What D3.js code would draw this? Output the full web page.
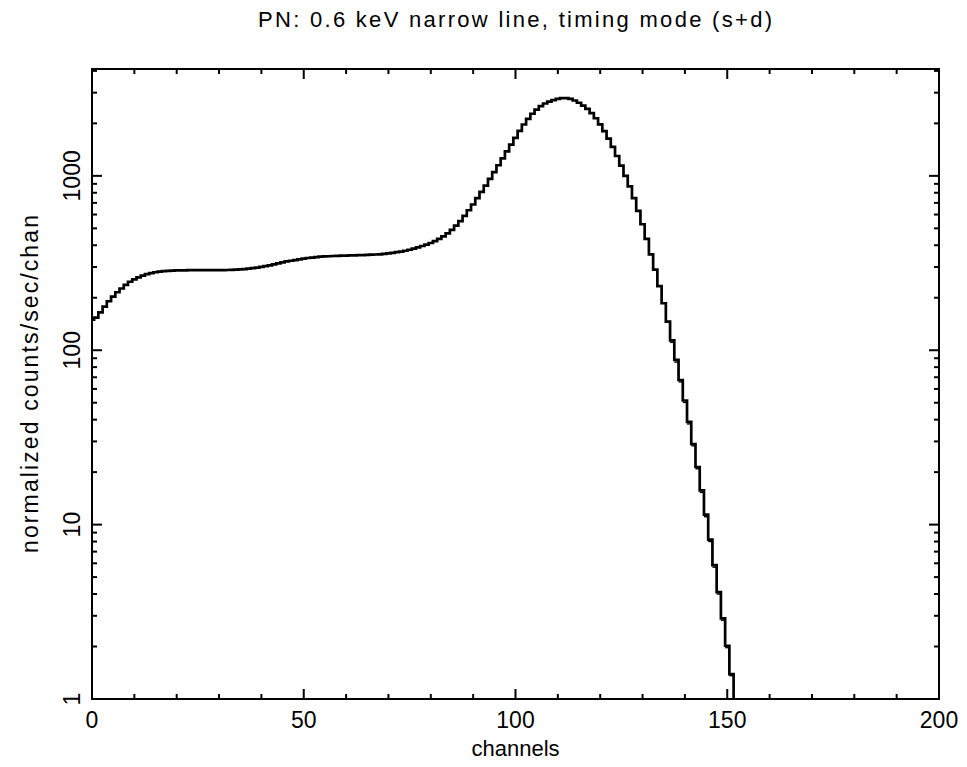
<!DOCTYPE html>
<html lang="en">
<head>
    <meta charset="UTF-8">
    <title>PN: 0.6 keV narrow line, timing mode (s+d)</title>
    <script src="https://cdnjs.cloudflare.com/ajax/libs/d3/7.8.5/d3.min.js"></script>
    <style>
        body {
            margin: 0;
            padding: 0;
            background-color: #fff;
        }
        svg text {
            font-family: "Liberation Sans", Arial, sans-serif;
            fill: #000;
        }
        .frame {
            fill: none;
            stroke: #000;
            stroke-width: 2px;
        }
        .tick-line {
            stroke: #000;
            stroke-width: 2px;
        }
        .model {
            fill: none;
            stroke: #000;
            stroke-width: 2.7px;
            stroke-linejoin: miter;
        }
        .data-bar {
            stroke: #000;
            stroke-width: 1.4px;
        }
    </style>
</head>
<body>
    <div id="chart"></div>

    <script>
        // model counts per channel, channels 0..152
        const modelValues = [
            150, 154, 165, 178, 191, 203, 215, 226, 237, 247,
            255, 262, 268, 273, 277, 280, 282, 284, 285, 286,
            287, 287, 287, 288, 288, 288, 288, 288, 288, 288,
            288, 288, 288.5, 289, 290, 291, 292, 294, 296, 298,
            301, 304, 307, 311, 315, 319, 323, 326, 329, 332,
            335, 338, 340, 342, 344, 345, 346, 347, 348, 349,
            349, 350, 350, 351, 351, 352, 353, 354, 355, 357,
            359, 362, 365, 368, 372, 377, 383, 389, 396, 403,
            412, 422, 435, 450, 468, 490, 518, 550, 590, 635,
            685, 745, 810, 880, 960, 1050, 1150, 1260, 1380, 1510,
            1650, 1810, 1970, 2120, 2270, 2400, 2510, 2600, 2665, 2720,
            2765, 2790, 2790, 2765, 2705, 2625, 2530, 2420, 2290, 2140,
            1975, 1805, 1635, 1465, 1300, 1145, 1000, 870, 745, 630,
            528, 435, 355, 290, 233, 186, 146, 114, 88, 67.5,
            51.5, 38.8, 29, 21.4, 15.7, 11.4, 8.2, 5.85, 4.1, 2.9,
            2.02, 1.39, 0.95
        ];
        const firstChannel = 0;

        // data points in the steep tail, where they sit a little off the model
        const tailChannels = [137, 138, 139, 140, 141, 142, 143, 144, 145, 146, 147, 148, 149, 150, 151];
        const tailData = [111, 85.5, 65.8, 50.2, 37.8, 28.3, 20.9, 15.3, 11.1, 8.0, 5.7, 4.0, 2.83, 1.97, 1.36];

        const xTicksMajor = [0, 50, 100, 150, 200];
        const yTicksMajor = [1, 10, 100, 1000];
        const yLabels = ['1', '10', '100', '1000'];

        const titleText = 'PN: 0.6 keV narrow line, timing mode (s+d)';
        const xTitle = 'channels';
        const yTitle = 'normalized counts/sec/chan';

        const width = 967;
        const height = 767;
        const margin = { top: 69, right: 28, bottom: 68, left: 92 };
        const plotW = width - margin.left - margin.right;
        const plotH = height - margin.top - margin.bottom;

        const x = d3.scaleLinear().domain([0, 200]).range([0, plotW]);
        const y = d3.scaleLog().domain([1, 4100]).range([plotH, 0]);

        const svg = d3.select('#chart')
            .append('svg')
            .attr('width', width)
            .attr('height', height);

        svg.append('defs').append('clipPath')
            .attr('id', 'plot-clip')
            .append('rect')
            .attr('width', plotW)
            .attr('height', plotH);

        const g = svg.append('g')
            .attr('transform', `translate(${margin.left},${margin.top})`);

        // Step line: each bin spans channel-0.5 .. channel+0.5
        const stepPoints = [];
        modelValues.forEach((v, i) => {
            const c = firstChannel + i;
            stepPoints.push([c - 0.5, v]);
            stepPoints.push([c + 0.5, v]);
        });

        const line = d3.line()
            .x(d => x(d[0]))
            .y(d => y(d[1]));

        const plot = g.append('g').attr('clip-path', 'url(#plot-clip)');

        plot.append('path')
            .attr('class', 'model')
            .attr('d', line(stepPoints));

        plot.selectAll('line.data-bar')
            .data(tailChannels)
            .enter().append('line')
            .attr('class', 'data-bar')
            .attr('x1', c => x(c - 0.5))
            .attr('x2', c => x(c + 0.5))
            .attr('y1', (c, i) => y(tailData[i]))
            .attr('y2', (c, i) => y(tailData[i]));

        // Ticks on all four sides, pointing inward
        const majorLen = 10, minorLen = 5;
        const xMinor = d3.range(0, 201, 10).filter(v => v % 50 !== 0);
        const yMinor = [];
        [1, 10, 100, 1000].forEach(dec => {
            for (let k = 2; k <= 9; k++) {
                if (dec * k <= 4100) yMinor.push(dec * k);
            }
        });

        const ticks = g.append('g');
        const xTickData = xTicksMajor.map(v => ({ v, len: majorLen }))
            .concat(xMinor.map(v => ({ v, len: minorLen })));
        const yTickData = yTicksMajor.map(v => ({ v, len: majorLen }))
            .concat(yMinor.map(v => ({ v, len: minorLen })));

        ticks.selectAll('.xb').data(xTickData).enter().append('line')
            .attr('class', 'tick-line')
            .attr('x1', d => x(d.v)).attr('x2', d => x(d.v))
            .attr('y1', plotH).attr('y2', d => plotH - d.len);
        ticks.selectAll('.xt').data(xTickData).enter().append('line')
            .attr('class', 'tick-line')
            .attr('x1', d => x(d.v)).attr('x2', d => x(d.v))
            .attr('y1', 0).attr('y2', d => d.len);
        ticks.selectAll('.yl').data(yTickData).enter().append('line')
            .attr('class', 'tick-line')
            .attr('y1', d => y(d.v)).attr('y2', d => y(d.v))
            .attr('x1', 0).attr('x2', d => d.len);
        ticks.selectAll('.yr').data(yTickData).enter().append('line')
            .attr('class', 'tick-line')
            .attr('y1', d => y(d.v)).attr('y2', d => y(d.v))
            .attr('x1', plotW).attr('x2', d => plotW - d.len);

        g.append('rect')
            .attr('class', 'frame')
            .attr('width', plotW)
            .attr('height', plotH);

        // Tick labels
        g.selectAll('.xlabel').data(xTicksMajor).enter().append('text')
            .attr('x', d => x(d))
            .attr('y', plotH + 29)
            .attr('text-anchor', 'middle')
            .style('font-size', '23px')
            .text(d => d);

        g.selectAll('.ylabel').data(yTicksMajor).enter().append('text')
            .attr('transform', (d, i) => `translate(-12,${y(d)}) rotate(-90)`)
            .attr('text-anchor', 'middle')
            .style('font-size', '23px')
            .text((d, i) => yLabels[i]);

        // Titles
        svg.append('text')
            .attr('x', 515)
            .attr('y', 27)
            .attr('text-anchor', 'middle')
            .attr('textLength', 514)
            .attr('lengthAdjust', 'spacing')
            .style('font-size', '22px')
            .text(titleText);

        svg.append('text')
            .attr('x', margin.left + plotW / 2)
            .attr('y', 756)
            .attr('text-anchor', 'middle')
            .style('font-size', '22px')
            .text(xTitle);

        svg.append('text')
            .attr('transform', `translate(38,${margin.top + plotH / 2}) rotate(-90)`)
            .attr('text-anchor', 'middle')
            .attr('textLength', 338)
            .attr('lengthAdjust', 'spacing')
            .style('font-size', '23px')
            .text(yTitle);
    </script>
</body>
</html>
